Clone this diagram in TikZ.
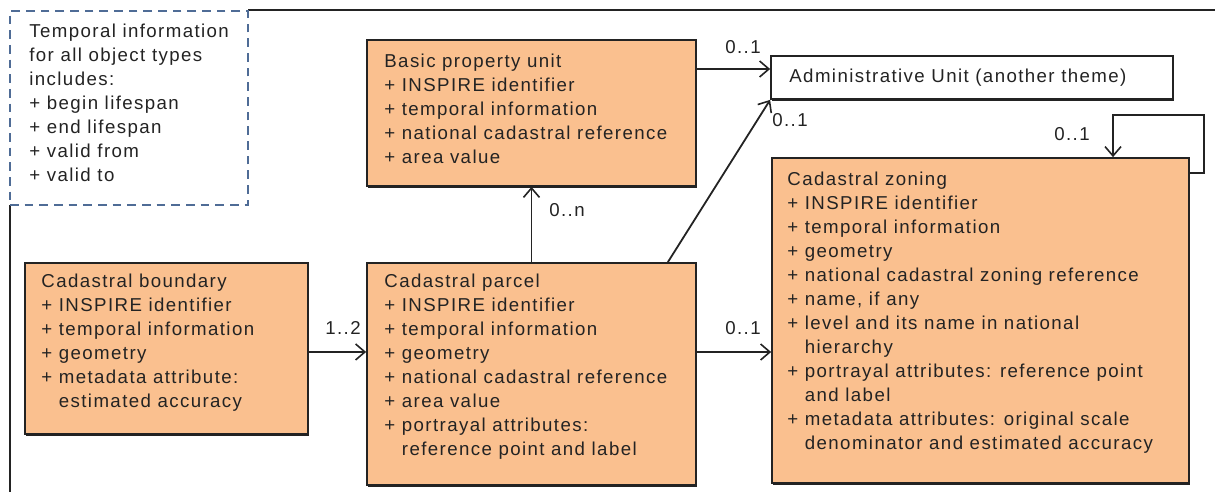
\documentclass[tikz,border=0pt]{standalone}
\usepackage{fontspec}
\setmainfont{Liberation Sans}[LetterSpace=7.5]
\usetikzlibrary{arrows.meta,shadows}
\definecolor{peach}{RGB}{250,192,143}
\definecolor{noteblue}{RGB}{79,108,150}
\definecolor{ink}{RGB}{35,35,35}
\newcommand\cnt{\hphantom{+ }}
\begin{document}
\begin{tikzpicture}[x=0.75pt,y=-0.75pt,
  box/.style={draw=ink, line width=1.3pt, fill=peach, rectangle, inner sep=0pt,
    drop shadow={shadow xshift=0.8pt, shadow yshift=-1.3pt, fill=ink, opacity=1}},
  txt/.style={anchor=north west, inner sep=0pt, align=left, text=ink, font=\fontsize{14}{18}\selectfont},
  mult/.style={inner sep=0pt, text=ink, font=\fontsize{14}{18}\selectfont},
  arr/.style={draw=ink, line width=1.35pt, -{Straight Barb[length=7pt,width=12pt,line width=1.2pt]}},
  frame/.style={draw=ink, line width=1.3pt}
]
\useasboundingbox (0,0) rectangle (1215,492);
% outer frame
\coordinate (ftl) at (248,10);
\coordinate (ftr) at (1215,10);
\coordinate (fbl) at (10,205);
\coordinate (fbb) at (10,492);
\draw[frame] (ftl) -- (ftr);
\draw[frame] (fbl) -- (fbb);
% note
\node[draw=noteblue, line width=1.3pt, dash pattern=on 6.5pt off 4.5pt, fill=white, rectangle, inner sep=0pt,
  minimum width=178.5pt, minimum height=145.5pt] (note) at (129,108) {};
\node[txt] (note-t) at ([shift={(20,14)}]note.north west)
  {Temporal information\\for all object types\\includes:\\+ begin lifespan\\+ end lifespan\\+ valid from\\+ valid to};
% boxes
\node[box, minimum width=246.75pt, minimum height=109.5pt] (basic) at (531.5,113) {};
\node[txt] (basic-t) at ([shift={(18,15)}]basic.north west)
  {Basic property unit\\+ INSPIRE identifier\\+ temporal information\\+ national cadastral reference\\+ area value};
\node[box, fill=white, minimum width=301.5pt, minimum height=32.25pt] (admin) at (972,77.5) {};
\node[txt] (admin-t) at ([shift={(19,14)}]admin.north west) {Administrative Unit (another theme)};
\node[box, minimum width=212.25pt, minimum height=128.25pt] (boundary) at (166.5,348.5) {};
\node[txt] (boundary-t) at ([shift={(17,12)}]boundary.north west)
  {Cadastral boundary\\+ INSPIRE identifier\\+ temporal information\\+ geometry\\+ metadata attribute:\\\cnt estimated accuracy};
\node[box, minimum width=246.75pt, minimum height=166.5pt] (parcel) at (531.5,374) {};
\node[txt] (parcel-t) at ([shift={(18,12)}]parcel.north west)
  {Cadastral parcel\\+ INSPIRE identifier\\+ temporal information\\+ geometry\\+ national cadastral reference\\+ area value\\+ portrayal attributes:\\\cnt reference point and label};
\node[box, minimum width=312.75pt, minimum height=243.75pt] (zoning) at (980.5,320.5) {};
\node[txt] (zoning-t) at ([shift={(16,15)}]zoning.north west)
  {Cadastral zoning\\+ INSPIRE identifier\\+ temporal information\\+ geometry\\+ national cadastral zoning reference\\+ name, if any\\+ level and its name in national\\\cnt hierarchy\\+ portrayal attributes: reference point\\\cnt and label\\+ metadata attributes: original scale\\\cnt denominator and estimated  accuracy};
% connectors
\draw[arr] ([yshift=-2.6pt]boundary.east) -- ([yshift=-2.6pt]boundary.east -| parcel.west);
\draw[arr] ([yshift=16.5pt]parcel.east) -- ([yshift=16.5pt]parcel.east -| zoning.west);
\draw[arr] (parcel.north) -- (basic.south);
\draw[arr] ([yshift=33pt]basic.east) -- ([yshift=33pt]basic.east -| admin.west);
\draw[arr] ([xshift=-21.75pt]parcel.north east) -- (admin.south west);
\coordinate (lp) at (1113,115);
\draw[arr] ([yshift=-12pt]zoning.north east) -- ++(10.5pt,0) |- (lp) -- (lp |- zoning.north);
% multiplicities
\node[mult] (m1) at (743,47) {0..1};
\node[mult] (m2) at (790,120) {0..1};
\node[mult] (m3) at (567,210) {0..n};
\node[mult] (m4) at (343,328) {1..2};
\node[mult] (m5) at (743,328) {0..1};
\node[mult] (m6) at (1072,134) {0..1};
\end{tikzpicture}
\end{document}
